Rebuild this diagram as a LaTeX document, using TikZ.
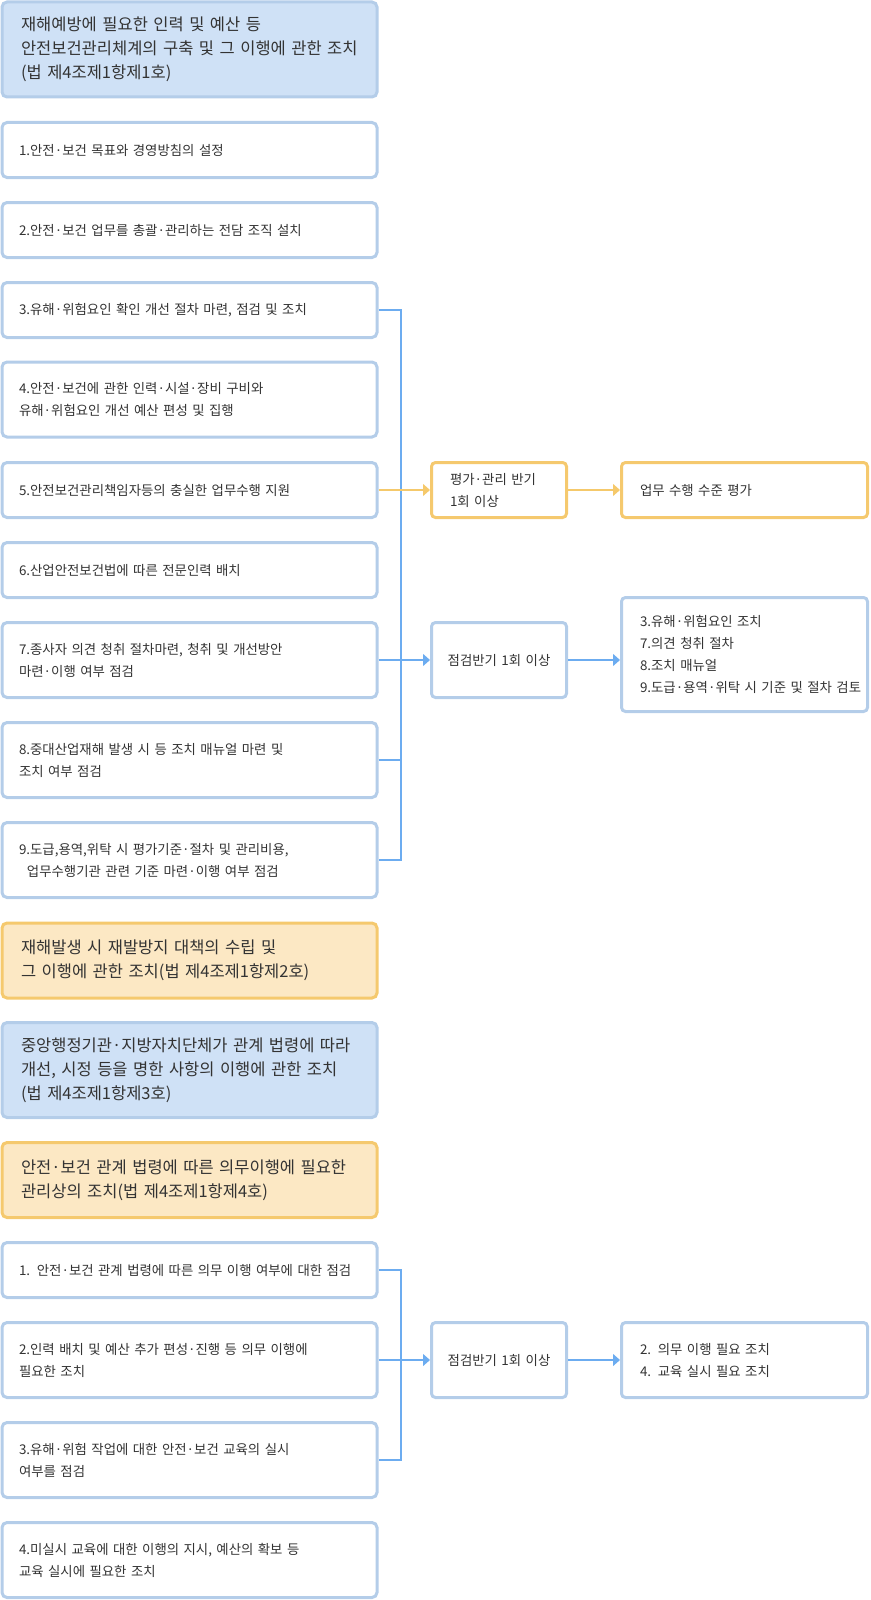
\documentclass[tikz,border=0pt]{standalone}
\usepackage{fontspec}
\setmainfont{Noto Sans CJK KR}
\usetikzlibrary{arrows.meta}

\definecolor{boxline}{HTML}{B4CDE9}
\definecolor{bluefill}{HTML}{CFE1F6}
\definecolor{orgline}{HTML}{F5C96E}
\definecolor{orgfill}{HTML}{FCE8C4}
\definecolor{wireblue}{HTML}{6CACF0}
\definecolor{wireyellow}{HTML}{F5C96B}
\definecolor{txt}{HTML}{333333}

\begin{document}
\begin{tikzpicture}[
  x=1pt, y=-1pt,
  font=\fontsize{13.4}{22}\selectfont,
  text=txt,
  >={Triangle[length=7pt,width=12pt]},
  item/.style={rectangle, draw=boxline, fill=white, line width=3pt, rounded corners=5pt, inner xsep=17pt, inner ysep=0pt, text width=341pt, align=left, minimum height=55pt},
  head/.style={item, inner xsep=19pt, text width=337pt, font=\fontsize{16.5}{24}\selectfont, minimum height=75pt},
  bluehead/.style={head, fill=bluefill},
  orghead/.style={head, draw=orgline, fill=orgfill},
  period/.style={rectangle, draw=boxline, fill=white, line width=3pt, rounded corners=4pt, inner xsep=8.5pt, inner ysep=0pt, text width=118pt, align=center, minimum height=75pt},
  outcome/.style={rectangle, draw=boxline, fill=white, line width=3pt, rounded corners=4pt, inner xsep=18.5pt, inner ysep=0pt, text width=209pt, align=left, minimum height=75pt},
  wire/.style={draw=wireblue, line width=1.2pt},
  ywire/.style={draw=wireyellow, line width=1.2pt}
]
\useasboundingbox (0,0) rectangle (870,1600);

% first group
\node[bluehead, minimum height=95pt] (law1) at (189.5,49.5) {재해예방에 필요한 인력 및 예산 등\\\mbox{안전보건관리체계의 구축 및 그 이행에 관한 조치}\\(법 제4조제1항제1호)};
\node[item] (m1) at (189.5,150) {1.안전·보건 목표와 경영방침의 설정};
\node[item] (m2) at (189.5,230) {2.안전·보건 업무를 총괄·관리하는 전담 조직 설치};
\node[item] (m3) at (189.5,310) {3.유해·위험요인 확인 개선 절차 마련, 점검 및 조치};
\node[item, minimum height=75pt] (m4) at (189.5,399.5) {4.안전·보건에 관한 인력·시설·장비 구비와\\유해·위험요인 개선 예산 편성 및 집행};
\node[item] (m5) at (189.5,490) {5.안전보건관리책임자등의 충실한 업무수행 지원};
\node[item] (m6) at (189.5,570) {6.산업안전보건법에 따른 전문인력 배치};
\node[item, minimum height=75pt] (m7) at (189.5,660) {7.종사자 의견 청취 절차마련, 청취 및 개선방안\\마련·이행 여부 점검};
\node[item, minimum height=75pt] (m8) at (189.5,760) {8.중대산업재해 발생 시 등 조치 매뉴얼 마련 및\\조치 여부 점검};
\node[item, minimum height=75pt] (m9) at (189.5,860) {9.도급,용역,위탁 시 평가기준·절차 및 관리비용,\\\hspace*{8pt}업무수행기관 관련 기준 마련·이행 여부 점검};

% other headings
\node[orghead] (law2) at (189.5,960.5) {재해발생 시 재발방지 대책의 수립 및\\그 이행에 관한 조치(법 제4조제1항제2호)};
\node[bluehead, minimum height=95pt] (law3) at (189.5,1070) {\mbox{중앙행정기관·지방자치단체가 관계 법령에 따라}\\\mbox{개선, 시정 등을 명한 사항의 이행에 관한 조치}\\(법 제4조제1항제3호)};
\node[orghead] (law4) at (189.5,1180) {\mbox{안전·보건 관계 법령에 따른 의무이행에 필요한}\\관리상의 조치(법 제4조제1항제4호)};

% fourth group
\node[item] (d1) at (189.5,1270) {1. 안전·보건 관계 법령에 따른 의무 이행 여부에 대한 점검};
\node[item, minimum height=75pt] (d2) at (189.5,1360) {2.인력 배치 및 예산 추가 편성·진행 등 의무 이행에\\필요한 조치};
\node[item, minimum height=75pt] (d3) at (189.5,1460) {3.유해·위험 작업에 대한 안전·보건 교육의 실시\\여부를 점검};
\node[item, minimum height=75pt] (d4) at (189.5,1560) {4.미실시 교육에 대한 이행의 지시, 예산의 확보 등\\교육 실시에 필요한 조치};

% right column
\node[period, draw=orgline, inner xsep=18.5pt, text width=98pt, align=left, minimum height=55pt] (eval) at (499,490) {평가·관리 반기\\1회 이상};
\node[outcome, draw=orgline, minimum height=55pt] (evalres) at (744.5,490) {업무 수행 수준 평가};
\node[period] (chk1) at (499,660) {점검반기 1회 이상};
\node[outcome, minimum height=114pt] (chkres1) at (744.5,654.5) {3.유해·위험요인 조치\\7.의견 청취 절차\\8.조치 매뉴얼\\\mbox{9.도급·용역·위탁 시 기준 및 절차 검토}};
\node[period] (chk2) at (499,1360) {점검반기 1회 이상};
\node[outcome] (chkres2) at (744.5,1360) {2. 의무 이행 필요 조치\\4. 교육 실시 필요 조치};

% connectors
\coordinate (bus1) at (401,0);
\coordinate (bus2) at (401,1200);
\draw[wire] (m3.east) -| (bus1 |- m9.east) -- (m9.east);
\draw[wire] (m8.east) -- (m8.east -| bus1);
\draw[ywire,->] (m5.east) -- (eval.west);
\draw[wire,->] (m7.east) -- (chk1.west);
\draw[ywire,->] (eval.east) -- (evalres.west);
\draw[wire,->] (chk1.east) -- (chk1.east -| chkres1.west);
\draw[wire] (d1.east) -| (bus2 |- d3.east) -- (d3.east);
\draw[wire,->] (d2.east) -- (chk2.west);
\draw[wire,->] (chk2.east) -- (chkres2.west);

\end{tikzpicture}
\end{document}
